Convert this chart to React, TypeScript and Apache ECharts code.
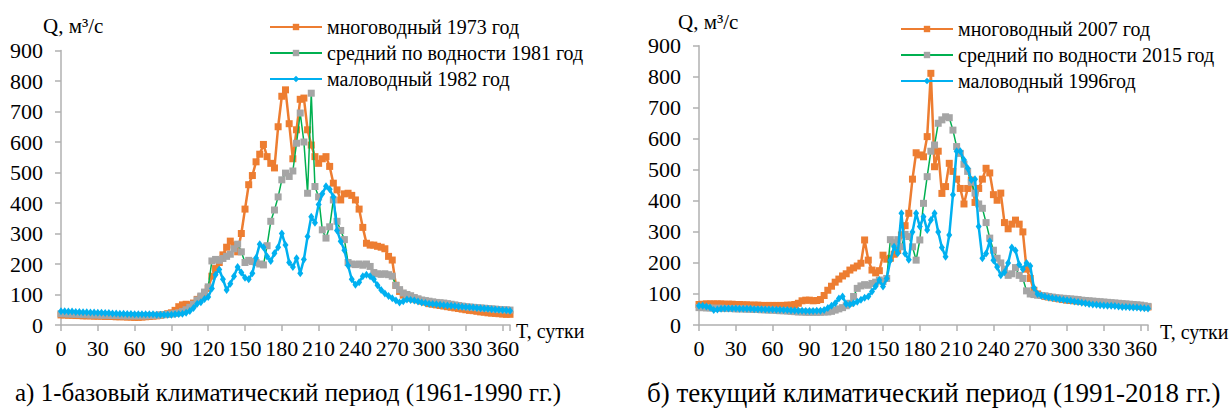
import React, { useEffect, useRef } from "react";
import * as echarts from "echarts";

// day of year, every 3 days (0..366)
const days: number[] = Array.from({ length: 123 }, (_, i) => i * 3);

// ---- period a) 1961-1990 ----
const names1 = ["многоводный 1973 год", "средний по водности 1981 год", "маловодный 1982 год"];
const wet1973 = [
  33, 33, 32, 32, 31, 31, 30, 30, 30, 29, 29, 29, 28, 28, 28, 27, 27, 27, 26, 26,
  25, 25, 26, 27, 28, 29, 30, 32, 34, 37, 40, 48, 60, 66, 68, 66, 72, 84, 92, 105,
  120, 160, 185, 205, 230, 255, 275, 262, 240, 300, 380, 460, 490, 535, 560, 592, 552, 530, 515, 650,
  750, 771, 660, 545, 640, 740, 744, 640, 590, 552, 530, 545, 552, 520, 465, 443, 410, 430, 432, 425,
  410, 380, 320, 268, 262, 262, 258, 255, 250, 225, 213, 130, 110, 98, 92, 88, 85, 82, 78, 75,
  70, 68, 66, 64, 62, 60, 58, 56, 54, 52, 50, 48, 47, 45, 43, 42, 40, 39, 38, 37,
  36, 35, 35,
];
const mid1981 = [
  37, 37, 36, 36, 35, 35, 34, 34, 33, 33, 33, 32, 32, 32, 31, 31, 31, 30, 30, 30,
  30, 30, 30, 30, 31, 31, 32, 33, 34, 35, 36, 38, 40, 44, 50, 58, 68, 82, 95, 108,
  125, 210, 215, 212, 218, 225, 232, 250, 265, 240, 205, 212, 208, 205, 200, 197, 260, 340, 377, 420,
  476, 498, 487, 505, 596, 695, 600, 432, 760, 454, 420, 312, 285, 322, 410, 340, 310, 280, 205, 200,
  198, 200, 196, 200, 192, 172, 168, 166, 168, 165, 160, 130, 116, 105, 100, 96, 90, 86, 82, 80,
  78, 76, 74, 73, 72, 70, 68, 66, 64, 62, 60, 59, 58, 57, 56, 55, 54, 53, 52, 51,
  50, 50, 49,
];
const dry1982 = [
  45, 45, 44, 44, 43, 43, 42, 42, 41, 41, 40, 40, 39, 39, 38, 38, 37, 37, 36, 36,
  35, 35, 35, 35, 35, 35, 34, 34, 34, 34, 34, 35, 36, 37, 40, 46, 56, 70, 75, 85,
  92, 120, 165, 182, 150, 115, 135, 160, 190, 172, 155, 150, 170, 220, 265, 255, 225, 210, 235, 255,
  300, 262, 205, 190, 219, 170, 215, 290, 355, 335, 395, 430, 455, 445, 420, 310, 275, 245, 195, 150,
  132, 140, 160, 165, 160, 150, 130, 115, 103, 95, 88, 80, 74, 78, 84, 82, 80, 77, 74, 72,
  70, 69, 68, 66, 65, 64, 63, 62, 61, 60, 59, 58, 57, 56, 55, 54, 53, 52, 51, 50,
  49, 48, 47,
];

// ---- period b) 1991-2018 ----
const names2 = ["многоводный 2007 год", "средний по водности 2015 год", "маловодный 1996год"];
const wet2007 = [
  66, 67, 68, 68, 68, 68, 68, 67, 67, 67, 66, 66, 65, 65, 64, 64, 64, 63, 63, 63,
  63, 63, 63, 63, 64, 64, 66, 70, 78, 80, 80, 78, 79, 82, 95, 112, 125, 138, 148, 158,
  165, 177, 184, 190, 199, 274, 209, 177, 168, 175, 225, 212, 215, 228, 240, 290, 320, 360, 470, 555,
  548, 542, 607, 811, 510, 560, 424, 446, 521, 495, 470, 440, 390, 440, 467, 395, 440, 470, 505, 490,
  420, 402, 425, 330, 310, 325, 338, 325, 300, 180, 150, 112, 100, 95, 92, 90, 88, 86, 84, 82,
  80, 79, 78, 77, 76, 75, 74, 73, 72, 71, 70, 69, 68, 67, 66, 65, 64, 63, 62, 61,
  60, 59, 58,
];
const mid2015 = [
  56, 56, 55, 55, 54, 54, 54, 53, 53, 53, 52, 52, 52, 51, 51, 50, 50, 49, 49, 48,
  48, 47, 46, 46, 45, 44, 43, 42, 42, 41, 41, 41, 41, 41, 42, 42, 44, 48, 52, 56,
  62, 70, 92, 118, 126, 130, 128, 134, 138, 145, 140, 150, 275, 265, 275, 252, 292, 285, 252, 209,
  274, 392, 478, 560, 580, 650, 661, 671, 668, 628, 575, 553, 518, 495, 460, 425, 390, 376, 330, 280,
  241, 215, 200, 180, 160, 165, 185, 160, 150, 110, 100, 98, 96, 95, 94, 92, 90, 88, 87, 86,
  85, 84, 83, 82, 80, 79, 78, 77, 76, 75, 74, 73, 72, 71, 70, 69, 68, 67, 66, 65,
  64, 62, 60,
];
const dry1996 = [
  62, 62, 60, 56, 48, 50, 52, 53, 53, 53, 53, 52, 52, 52, 52, 51, 51, 51, 50, 50,
  50, 49, 49, 48, 48, 47, 47, 46, 46, 45, 45, 45, 46, 46, 48, 55, 62, 70, 85, 92,
  68, 66, 70, 75, 81, 88, 92, 108, 125, 145, 124, 150, 209, 252, 231, 360, 230, 210, 300, 360,
  317, 349, 306, 338, 360, 300, 250, 220, 290, 420, 560, 560, 532, 505, 467, 470, 317, 215, 230, 270,
  209, 187, 160, 170, 200, 250, 240, 195, 180, 200, 190, 120, 100, 95, 92, 89, 87, 85, 83, 81,
  80, 78, 76, 74, 72, 70, 68, 66, 65, 64, 63, 62, 62, 61, 60, 58, 58, 57, 56, 56,
  55, 54, 53,
];

const xTicks = [0, 30, 60, 90, 120, 150, 180, 210, 240, 270, 300, 330, 360];

const FONT = "Liberation Serif";
const ORANGE = "#ed7d31";
const GRAY = "#a5a5a5";
const GREEN = "#00b050";
const BLUE = "#00b0f0";
const AXIS = "#b0b0b0";

function mkSeries(name: string, vals: number[], idx: number, kind: "wet" | "mid" | "dry") {
  const base: any = {
    name,
    type: "line",
    xAxisIndex: idx,
    yAxisIndex: idx,
    data: days.map((d, i) => [d, vals[i]]),
    showSymbol: true,
    animation: false,
  };
  if (kind === "wet") {
    base.symbol = "rect";
    base.symbolSize = 7;
    base.itemStyle = { color: ORANGE };
    base.lineStyle = { color: ORANGE, width: 2.5 };
    base.z = 2;
  } else if (kind === "mid") {
    base.symbol = "rect";
    base.symbolSize = 7;
    base.itemStyle = { color: GRAY };
    base.lineStyle = { color: GREEN, width: 1.5 };
    base.z = 3;
  } else {
    base.symbol = "diamond";
    base.symbolSize = [6, 8];
    base.itemStyle = { color: BLUE };
    base.lineStyle = { color: BLUE, width: 2.5 };
    base.z = 4;
  }
  return base;
}

function xAxis(idx: number) {
  return {
    type: "value",
    gridIndex: idx,
    min: 0,
    max: 366,
    interval: 30,
    axisLine: { show: true, lineStyle: { color: AXIS, width: 1.5 } },
    axisTick: { show: true, length: 6, lineStyle: { color: AXIS, width: 1.5 } },
    splitLine: { show: false },
    axisLabel: {
      margin: 12,
      fontFamily: FONT,
      fontSize: 22,
      color: "#000",
      formatter: (v: number) => (xTicks.indexOf(v) >= 0 ? String(v) : ""),
    },
  };
}

function yAxis(idx: number) {
  return {
    type: "value",
    gridIndex: idx,
    min: 0,
    max: 900,
    interval: 100,
    axisLine: { show: true, lineStyle: { color: AXIS, width: 1.5 } },
    axisTick: { show: true, length: 6, lineStyle: { color: AXIS, width: 1.5 } },
    splitLine: { show: false },
    axisLabel: { margin: 18, fontFamily: FONT, fontSize: 22, color: "#000" },
  };
}

export default function App() {
  const ref = useRef<HTMLDivElement>(null);
  useEffect(() => {
    if (!ref.current) return;
    const chart = echarts.init(ref.current, undefined, { renderer: "svg" });
    const legendText = { fontFamily: FONT, fontSize: 20, color: "#000", lineHeight: 20 };
    chart.setOption({
      animation: false,
      backgroundColor: "#fff",
      textStyle: { fontFamily: FONT },
      grid: [
        { left: 61, top: 50.5, width: 449, height: 274.5, containLabel: false },
        { left: 699, top: 45.7, width: 449, height: 279.3, containLabel: false },
      ],
      xAxis: [xAxis(0), xAxis(1)],
      yAxis: [yAxis(0), yAxis(1)],
      legend: [
        {
          orient: "vertical",
          left: 264,
          top: 12,
          itemWidth: 52,
          itemHeight: 8,
          itemGap: 6,
          data: names1,
          textStyle: legendText,
        },
        {
          orient: "vertical",
          left: 895,
          top: 14,
          itemWidth: 52,
          itemHeight: 8,
          itemGap: 6,
          data: names2,
          textStyle: legendText,
        },
      ],
      series: [
        mkSeries(names1[0], wet1973, 0, "wet"),
        mkSeries(names1[1], mid1981, 0, "mid"),
        mkSeries(names1[2], dry1982, 0, "dry"),
        mkSeries(names2[0], wet2007, 1, "wet"),
        mkSeries(names2[1], mid2015, 1, "mid"),
        mkSeries(names2[2], dry1996, 1, "dry"),
      ],
      graphic: [
        { type: "text", left: 43, top: 15, style: { text: "Q, м³/с", fontFamily: FONT, fontSize: 21, fill: "#000" } },
        { type: "text", left: 678, top: 11, style: { text: "Q, м³/с", fontFamily: FONT, fontSize: 21, fill: "#000" } },
        { type: "text", left: 516, top: 321, style: { text: "T, сутки", fontFamily: FONT, fontSize: 20, fill: "#000" } },
        { type: "text", left: 1160, top: 322, style: { text: "T, сутки", fontFamily: FONT, fontSize: 20, fill: "#000" } },
        {
          type: "text",
          left: 15,
          top: 380,
          style: { text: "а) 1-базовый климатический период (1961-1990 гг.)", fontFamily: FONT, fontSize: 25, fill: "#000" },
        },
        {
          type: "text",
          left: 647,
          top: 379,
          style: { text: "б) текущий климатический период (1991-2018 гг.)", fontFamily: FONT, fontSize: 27, fill: "#000" },
        },
      ],
    });
    return () => chart.dispose();
  }, []);
  return (
    <div
      ref={ref}
      style={{ position: "fixed", left: 0, top: 0, width: 1229, height: 414, background: "#fff" }}
    />
  );
}
